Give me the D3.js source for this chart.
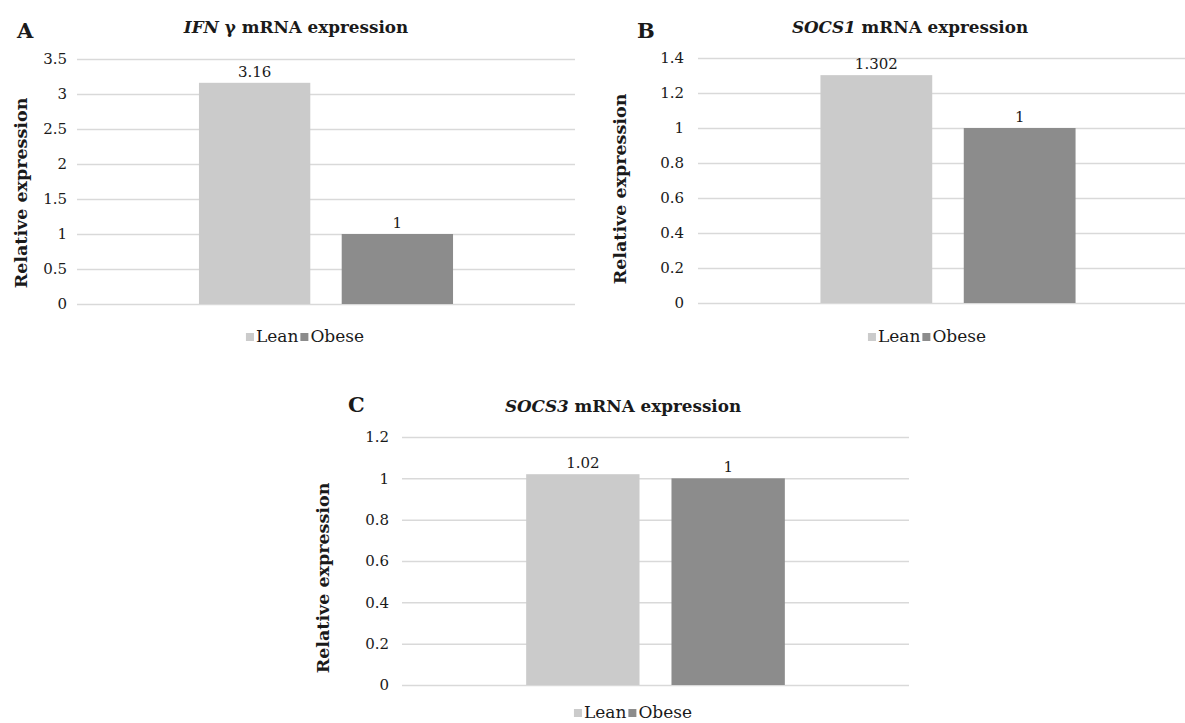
<!DOCTYPE html>
<html>
<head>
<meta charset="utf-8">
<script src="https://cdn.jsdelivr.net/npm/d3@7"></script>
<style>
body { margin: 0; background: #fff; }
svg { display: block; }
text { font-family: "DejaVu Serif", serif; fill: #1a1a1a; }
</style>
</head>
<body>
<div id="chart"></div>
<script>
// data
var series = ["Lean", "Obese"];
var ifnValues = [3.16, 1];
var socs1Values = [1.302, 1];
var socs3Values = [1.02, 1];
var ifnTicks = [0, 0.5, 1, 1.5, 2, 2.5, 3, 3.5];
var socs1Ticks = [0, 0.2, 0.4, 0.6, 0.8, 1, 1.2, 1.4];
var socs3Ticks = [0, 0.2, 0.4, 0.6, 0.8, 1, 1.2];
var panelLetters = ["A", "B", "C"];
var titleGenes = ["IFN", "SOCS1", "SOCS3"];
var titleRest = [" \u03b3 mRNA expression", " mRNA expression", " mRNA expression"];
var yLabel = "Relative expression";

var color = d3.scaleOrdinal()
    .domain(series)
    .range(["#cbcbcb", "#8c8c8c"]);

var svg = d3.select("#chart").append("svg")
    .attr("width", 1185)
    .attr("height", 723);

// layout of the three panels (pixels)
var panels = [
    {values: ifnValues, ticks: ifnTicks, x0: 77, x1: 575, yTop: 59, yBot: 304, tickX: 67,
     labX: 27, labY: 193, letterX: 17, letterY: 38, titleX: 296, titleY: 33, legX: 306, legY: 342},
    {values: socs1Values, ticks: socs1Ticks, x0: 698, x1: 1198, yTop: 58, yBot: 303, tickX: 684,
     labX: 626, labY: 189, letterX: 637, letterY: 38, titleX: 910, titleY: 33, legX: 928, legY: 342},
    {values: socs3Values, ticks: socs3Ticks, x0: 402, x1: 909, yTop: 437, yBot: 685, tickX: 389,
     labX: 329, labY: 578, letterX: 348, letterY: 412, titleX: 623, titleY: 412, legX: 634, legY: 718}
];

panels.forEach(function (p, i) {
    var g = svg.append("g");

    var y = d3.scaleLinear()
        .domain([0, d3.max(p.ticks)])
        .range([p.yBot, p.yTop]);

    var x0 = d3.scaleBand()
        .domain([""])
        .range([p.x0, p.x1])
        .paddingInner(0)
        .paddingOuter(0.48);

    var x1 = d3.scaleBand()
        .domain(series)
        .range([0, x0.bandwidth()])
        .paddingInner(0.22);

    // gridlines + tick labels
    var axis = g.append("g")
        .attr("transform", "translate(" + p.x0 + ",0)")
        .call(d3.axisLeft(y)
            .tickValues(p.ticks)
            .tickSize(-(p.x1 - p.x0))
            .tickPadding(p.x0 - p.tickX)
            .tickFormat(function (d) { return String(+d.toFixed(2)); }));
    axis.select(".domain").remove();
    axis.selectAll(".tick line")
        .attr("stroke", "#d9d9d9")
        .attr("stroke-width", 1.5);
    axis.selectAll(".tick text")
        .attr("font-family", "DejaVu Serif")
        .attr("font-size", 15)
        .attr("fill", "#1a1a1a");

    // bars
    var rows = series.map(function (s, j) { return {name: s, value: p.values[j]}; });

    g.selectAll(".bar")
        .data(rows)
        .enter().append("rect")
        .attr("class", "bar")
        .attr("x", function (d) { return x0("") + x1(d.name); })
        .attr("width", x1.bandwidth())
        .attr("y", function (d) { return y(d.value); })
        .attr("height", function (d) { return y(0) - y(d.value); })
        .attr("fill", function (d) { return color(d.name); });

    g.selectAll(".val")
        .data(rows)
        .enter().append("text")
        .attr("class", "val")
        .attr("x", function (d) { return x0("") + x1(d.name) + x1.bandwidth() / 2; })
        .attr("y", function (d) { return y(d.value) - 6; })
        .attr("text-anchor", "middle")
        .attr("font-size", 15)
        .text(function (d) { return String(d.value); });

    // y axis title
    g.append("text")
        .attr("transform", "translate(" + p.labX + "," + p.labY + ") rotate(-90)")
        .attr("text-anchor", "middle")
        .attr("font-size", 17.5)
        .attr("font-weight", "bold")
        .text(yLabel);

    // panel letter
    g.append("text")
        .attr("x", p.letterX)
        .attr("y", p.letterY)
        .attr("font-size", 21)
        .attr("font-weight", "bold")
        .text(panelLetters[i]);

    // chart title
    var title = g.append("text")
        .attr("x", p.titleX)
        .attr("y", p.titleY)
        .attr("text-anchor", "middle")
        .attr("font-size", 16.8)
        .attr("font-weight", "bold");
    title.append("tspan").attr("font-style", "italic").text(titleGenes[i]);
    title.append("tspan").text(titleRest[i]);

    // legend
    var leg = g.append("g");
    var cx = 0;
    series.forEach(function (s) {
        leg.append("rect")
            .attr("x", cx)
            .attr("y", -9)
            .attr("width", 8)
            .attr("height", 8)
            .attr("fill", color(s));
        cx += 10;
        var t = leg.append("text")
            .attr("x", cx)
            .attr("y", 0)
            .attr("font-size", 17)
            .text(s);
        cx += t.node().getComputedTextLength() + 2;
    });
    leg.attr("transform", "translate(" + (p.legX - cx / 2) + "," + p.legY + ")");
});
</script>
</body>
</html>
